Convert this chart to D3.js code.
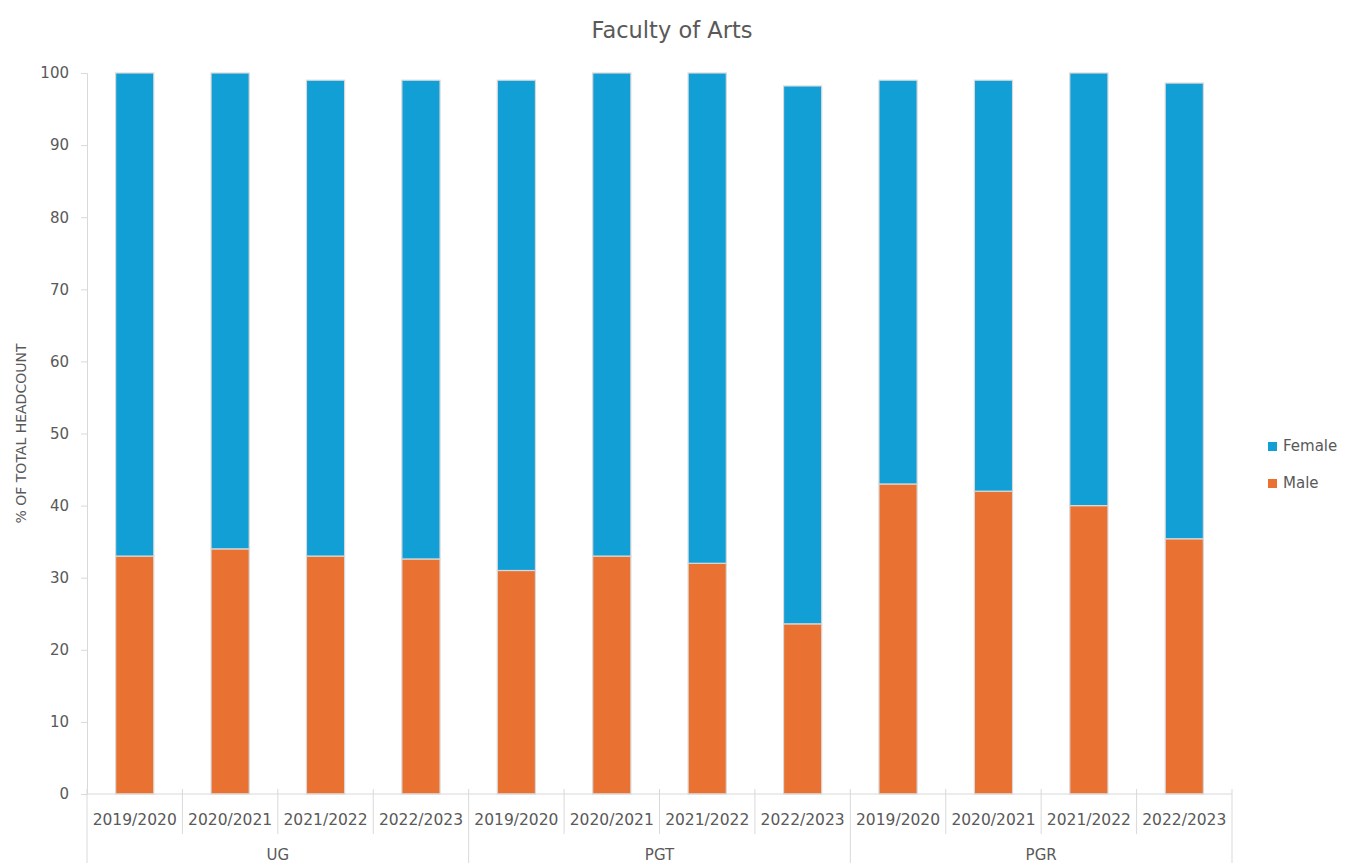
<!DOCTYPE html>
<html>
<head>
<meta charset="utf-8">
<script src="https://cdn.jsdelivr.net/npm/d3@7"></script>
<style>
  body { margin: 0; background: #fff; }
  text { font-family: "DejaVu Sans", sans-serif; fill: #595959; }
</style>
</head>
<body>
<div id="chart"></div>
<script>
// data
var groups = ['UG', 'PGT', 'PGR'];
var years = ['2019/2020', '2020/2021', '2021/2022', '2022/2023'];
var maleValues = [33, 34, 33, 32.6, 31, 33, 32, 23.6, 43, 42, 40, 35.4];
var femaleValues = [67, 66, 66, 66.4, 68, 67, 68, 74.6, 56, 57, 60, 63.2];
var yTicks = [0, 10, 20, 30, 40, 50, 60, 70, 80, 90, 100];
var seriesNames = ['Female', 'Male'];
var seriesColors = { Female: '#119fd6', Male: '#e97132' };

var W = 1345, H = 863;
var margin = { top: 73, right: 113, bottom: 69, left: 87 },
  width = W - margin.left - margin.right,
  height = H - margin.top - margin.bottom;

var svg = d3.select('#chart').append('svg')
  .attr('width', W).attr('height', H);

var g = svg.append('g')
  .attr('transform', 'translate(' + margin.left + ',' + margin.top + ')');

// categories: one per group/year pair
var cats = [];
groups.forEach(function (gr) {
  years.forEach(function (yr) { cats.push(gr + '|' + yr); });
});

var data = cats.map(function (c, i) {
  return { key: c, Male: maleValues[i], Female: femaleValues[i] };
});

var xScale = d3.scaleBand().domain(cats).range([0, width]).paddingInner(0.6).paddingOuter(0.3);
var xOuter = d3.scaleBand().domain(cats).range([0, width]);
var yScale = d3.scaleLinear().domain([0, 100]).range([height, 0]);

// title
svg.append('text')
  .attr('x', 672).attr('y', 38)
  .attr('text-anchor', 'middle')
  .style('font-size', '22.5px')
  .text('Faculty of Arts');

// y axis
var yAxis = g.append('g').call(d3.axisLeft(yScale).tickValues(yTicks).tickSize(6).tickPadding(12));
yAxis.selectAll('path, line').attr('stroke', '#d9d9d9');
yAxis.selectAll('text').style('font-size', '15px').style('fill', '#595959')
  .style('font-family', '"DejaVu Sans", sans-serif');

svg.append('text')
  .attr('transform', 'translate(26,' + (margin.top + height / 2) + ') rotate(-90)')
  .attr('text-anchor', 'middle')
  .style('font-size', '14px')
  .text('% OF TOTAL HEADCOUNT');

// stacked bars
var stacked = d3.stack().keys(['Male', 'Female'])(data);
g.selectAll('.series')
  .data(stacked)
  .enter()
  .append('g')
  .attr('fill', function (d) { return seriesColors[d.key]; })
  .selectAll('rect')
  .data(function (d) { return d; })
  .enter()
  .append('rect')
  .attr('x', function (d) { return xScale(d.data.key); })
  .attr('width', xScale.bandwidth())
  .attr('y', function (d) { return yScale(d[1]); })
  .attr('height', function (d) { return yScale(d[0]) - yScale(d[1]); })
  .attr('stroke', '#d9d9d9')
  .attr('stroke-width', 1.2);

// x axis: baseline, category separators, labels
var xa = g.append('g').attr('transform', 'translate(0,' + height + ')');
xa.append('line').attr('x1', 0).attr('x2', width).attr('y1', 0).attr('y2', 0)
  .attr('stroke', '#d9d9d9');

cats.forEach(function (c, i) {
  var x0 = xOuter(c);
  var isGroupStart = i % years.length === 0;
  xa.append('line')
    .attr('x1', x0).attr('x2', x0)
    .attr('y1', -5).attr('y2', isGroupStart ? 70 : 40)
    .attr('stroke', '#d9d9d9');
  xa.append('text')
    .attr('x', x0 + xOuter.bandwidth() / 2).attr('y', 31)
    .attr('text-anchor', 'middle')
    .style('font-size', '15.5px')
    .text(c.split('|')[1]);
});
xa.append('line').attr('x1', width).attr('x2', width).attr('y1', -5).attr('y2', 70)
  .attr('stroke', '#d9d9d9');

groups.forEach(function (gr, gi) {
  var first = xOuter(gr + '|' + years[0]);
  var last = xOuter(gr + '|' + years[years.length - 1]) + xOuter.bandwidth();
  xa.append('text')
    .attr('x', (first + last) / 2).attr('y', 66)
    .attr('text-anchor', 'middle')
    .style('font-size', '15px')
    .text(gr);
});

// legend
var legend = svg.append('g').attr('transform', 'translate(1268,440)');
seriesNames.forEach(function (s, i) {
  var row = legend.append('g').attr('transform', 'translate(0,' + i * 37 + ')');
  row.append('rect').attr('width', 9).attr('height', 9).attr('y', 2)
    .attr('fill', seriesColors[s]);
  row.append('text').attr('x', 15).attr('y', 11)
    .style('font-size', '15px')
    .text(s);
});
</script>
</body>
</html>
